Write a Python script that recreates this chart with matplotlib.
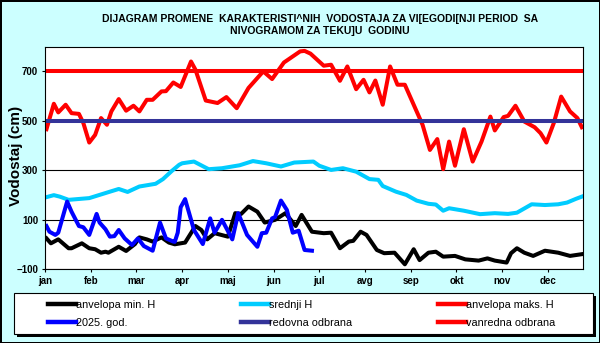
import matplotlib

matplotlib.use("Agg")
import matplotlib.pyplot as plt
from matplotlib.lines import Line2D
from matplotlib.patches import Rectangle

plt.rcParams["font.family"] = ["Liberation Sans", "DejaVu Sans"]

MONTHS = ["jan", "feb", "mar", "apr", "maj", "jun",
          "jul", "avg", "sep", "okt", "nov", "dec"]
MONTH_STEP = 31  # category axis: one label every 31 days
Y_TICKS = [-100, 100, 300, 500, 700]

# anvelopa min. H
MIN_DAYS = [1, 4, 9, 16, 18, 25, 30, 34, 38, 41, 43, 50, 55, 61, 64, 69, 73, 79, 84, 88,
            95, 102, 106, 110, 115, 124, 129, 133, 138, 144, 149, 156, 163, 170, 174, 181,
            189, 194, 200, 206, 209, 214, 218, 225, 230, 237, 244, 250, 254, 260, 265, 270,
            278, 285, 294, 300, 305, 313, 316, 320, 325, 331, 339, 348, 356, 364]
MIN_H = [24, 4, 20, -16, -16, 4, -16, -20, -34, -30, -34, -10, -27, 1, 28, 20, 11, 28, 7, 0,
         7, 74, 58, 20, 45, 31, 126, 123, 153, 132, 88, 99, 126, 74, 119, 51,
         45, 47, -16, 11, 14, 51, 38, -23, -36, -34, -81, -20, -64, -34, -30, -50,
         -47, -61, -66, -57, -66, -74, -36, -16, -34, -47, -26, -34, -47, -40]

# srednji H
MEAN_DAYS = [1, 6, 10, 16, 24, 30, 37, 44, 50, 56, 64, 75, 80, 86, 91, 93, 101, 111, 120,
             132, 141, 150, 160, 169, 182, 186, 194, 202, 211, 220, 226, 229, 238, 245, 252,
             260, 265, 270, 274, 284, 295, 305, 314, 320, 330, 339, 348, 354, 360, 364]
MEAN_H = [191, 199, 193, 180, 184, 187, 200, 213, 224, 212, 234, 245, 264, 297, 322, 328,
          335, 304, 308, 320, 337, 328, 315, 331, 335, 318, 301, 308, 294, 264, 261, 236,
          213, 200, 177, 164, 161, 136, 146, 136, 122, 126, 123, 128, 162, 159, 162, 169,
          184, 193]

# anvelopa maks. H
MAX_DAYS = [1, 6, 9, 14, 18, 23, 26, 30, 34, 38, 42, 45, 50, 55, 60, 64, 69, 73, 79, 82, 87,
            92, 99, 102, 109, 117, 123, 130, 138, 148, 154, 162, 173, 176, 180, 189, 194,
            200, 205, 211, 216, 220, 224, 229, 234, 239, 244, 252, 256, 261, 266, 270, 274,
            278, 284, 290, 296, 302, 305, 311, 314, 319, 325, 332, 336, 340, 345, 350, 356,
            361, 364]
MAX_H = [466, 569, 534, 565, 531, 528, 491, 412, 443, 511, 484, 538, 588, 541, 561, 538, 585,
         585, 619, 620, 655, 637, 740, 707, 582, 572, 596, 551, 633, 700, 669, 736, 781, 783,
         772, 723, 727, 662, 720, 628, 666, 615, 663, 565, 720, 646, 646, 538, 484, 382, 426,
         304, 416, 318, 466, 335, 416, 517, 461, 515, 520, 561, 497, 474, 450, 412, 491, 598,
         538, 511, 474]

# 2025. god.
CUR_DAYS = [1, 3, 7, 9, 15, 18, 23, 26, 30, 35, 37, 41, 44, 47, 50, 54, 59, 63, 67, 73, 78,
            82, 87, 88, 90, 92, 95, 101, 107, 112, 115, 120, 127, 131, 137, 144, 147, 150,
            154, 156, 160, 164, 168, 172, 176, 181]
CUR_H = [74, 51, 38, 47, 173, 132, 74, 69, 38, 123, 88, 61, 31, 33, 58, 24, -3, 24, -7, -26,
         88, 24, 11, 10, 47, 150, 183, 58, 1, 105, 47, 99, 20, 126, 38, -10, 45, 47, 105,
         110, 177, 139, 47, 55, -23, -26]

REDOVNA = 500
VANREDNA = 700

SERIES = [
    ("anvelopa min. H", "#000000"),
    ("srednji H", "#00CCFF"),
    ("anvelopa maks. H", "#FF0000"),
    ("2025. god.", "#0000FF"),
    ("redovna odbrana", "#333399"),
    ("vanredna odbrana", "#FF0000"),
]

W, H = 600, 343


def main() -> None:
    fig = plt.figure(figsize=(W / 100, H / 100), dpi=100)
    fig.patch.set_facecolor("#CCFFFF")
    fig.patch.set_edgecolor("black")
    fig.patch.set_linewidth(2)

    ax = fig.add_axes([45 / W, 1 - 269 / H, (583.3 - 45) / W, (269 - 46.7) / H])
    ax.set_facecolor("white")

    lw = 2.9
    ax.plot(MIN_DAYS, MIN_H, color=SERIES[0][1], lw=lw, solid_joinstyle="round")
    ax.plot(MEAN_DAYS, MEAN_H, color=SERIES[1][1], lw=lw, solid_joinstyle="round")
    ax.plot(MAX_DAYS, MAX_H, color=SERIES[2][1], lw=lw, solid_joinstyle="round")
    ax.plot(CUR_DAYS, CUR_H, color=SERIES[3][1], lw=lw, solid_joinstyle="round")
    ax.axhline(REDOVNA, color=SERIES[4][1], lw=lw)
    ax.axhline(VANREDNA, color=SERIES[5][1], lw=lw)

    ax.set_xlim(0, 365)
    ax.set_ylim(-100, 800)
    ax.set_xticks([i * MONTH_STEP for i in range(len(MONTHS))])
    ax.set_xticklabels(MONTHS)
    ax.set_yticks(Y_TICKS)
    ax.yaxis.grid(True, color="black", lw=0.8)
    ax.set_axisbelow(True)
    ax.tick_params(direction="out", length=2.5, width=0.8, labelsize=7, pad=2.5)
    for lbl in ax.get_xticklabels() + ax.get_yticklabels():
        lbl.set_fontweight("bold")
    for sp in ax.spines.values():
        sp.set_linewidth(0.8)

    fig.text(16 / W, 1 - 156 / H, "Vodostaj (cm)", rotation=90, ha="center",
             va="center", fontsize=11, fontweight="bold")
    fig.text(320 / W, 1 - 25.5 / H,
             "DIJAGRAM PROMENE  KARAKTERISTI^NIH  VODOSTAJA ZA VI[EGODI[NJI PERIOD  SA\n"
             "NIVOGRAMOM ZA TEKU]U  GODINU",
             ha="center", va="center", fontsize=7.5, fontweight="bold", linespacing=1.25)

    # legend box with a hard black shadow
    bx0, by0, bx1, by1 = 14.3, 292.7, 593, 333.7
    fig.patches.append(Rectangle(((bx0 + 3) / W, 1 - (by1 + 3) / H), (bx1 - bx0) / W,
                                 (by1 - by0) / H, transform=fig.transFigure,
                                 facecolor="black", edgecolor="none"))
    fig.patches.append(Rectangle((bx0 / W, 1 - by1 / H), (bx1 - bx0) / W, (by1 - by0) / H,
                                 transform=fig.transFigure, facecolor="white",
                                 edgecolor="black", lw=0.8))

    handles = [Line2D([], [], color=c, lw=3.2) for _, c in SERIES]
    labels = [n for n, _ in SERIES]
    order = [0, 3, 1, 4, 2, 5]
    fig.legend([handles[i] for i in order], [labels[i] for i in order], ncol=3,
               loc="center left", bbox_to_anchor=(48 / W, 1 - 313.9 / H),
               frameon=False, fontsize=7.8, handlelength=2.6, handletextpad=0.0,
               columnspacing=7.9, labelspacing=0.75, borderpad=0, borderaxespad=0)

    fig.savefig("out.png", dpi=100, facecolor=fig.get_facecolor(),
                edgecolor=fig.get_edgecolor())
    plt.close(fig)


if __name__ == "__main__":
    main()
